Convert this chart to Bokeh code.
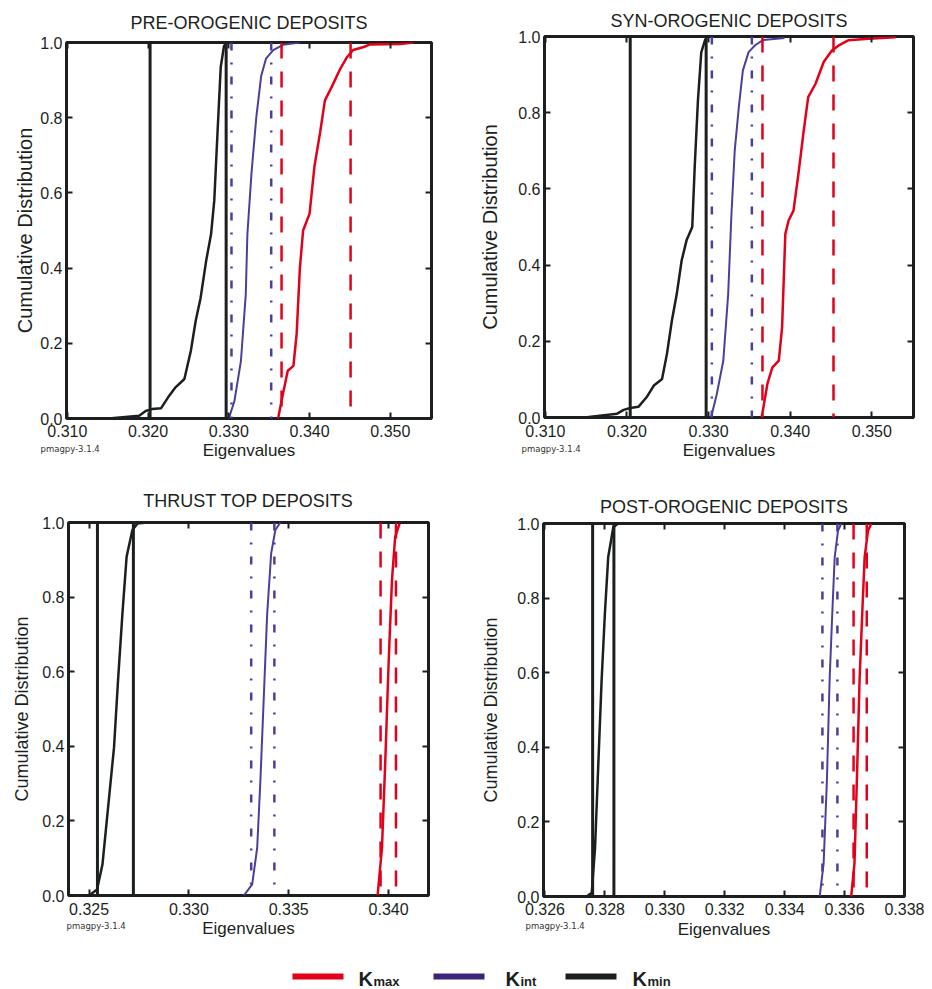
from bokeh.plotting import figure
from bokeh.models import Range1d, FixedTicker, PrintfTickFormatter, LinearAxis, Span, Label, Title
from bokeh.layouts import column, row
from bokeh.embed import file_html
from bokeh.resources import INLINE

RED = "#e2001a"
BLUE = "#4b3f9c"
BLACK = "#1b1f20"
FONT = "Liberation Sans"

titles = ["PRE-OROGENIC DEPOSITS", "SYN-OROGENIC DEPOSITS", "THRUST TOP DEPOSITS", "POST-OROGENIC DEPOSITS"]
y_ticks = [0.0, 0.2, 0.4, 0.6, 0.8, 1.0]

# ---- Panel 1: pre-orogenic ----
pre_xticks = [0.310, 0.320, 0.330, 0.340, 0.350]
pre_xlim = [0.3099, 0.3551]
pre_kmin_x = [0.3151, 0.3189, 0.3197, 0.3205, 0.3216, 0.3226, 0.3234, 0.3245, 0.3253, 0.3259, 0.3265, 0.3272, 0.3278, 0.3282, 0.3286, 0.3290, 0.3294, 0.3297]
pre_kmin_y = [0.000, 0.007, 0.020, 0.025, 0.027, 0.060, 0.083, 0.105, 0.180, 0.260, 0.320, 0.420, 0.490, 0.580, 0.760, 0.935, 0.990, 1.000]
pre_kint_x = [0.3300, 0.3307, 0.3315, 0.3321, 0.3323, 0.3328, 0.3334, 0.3340, 0.3346, 0.3355, 0.3367, 0.3388]
pre_kint_y = [0.000, 0.047, 0.153, 0.330, 0.490, 0.650, 0.800, 0.910, 0.957, 0.980, 0.994, 1.000]
pre_kmax_x = [0.3361, 0.3367, 0.3373, 0.3380, 0.3384, 0.3388, 0.3392, 0.3400, 0.3406, 0.3413, 0.3419, 0.3427, 0.3438, 0.3446, 0.3454, 0.3467, 0.3475, 0.3512, 0.3529]
pre_kmax_y = [0.000, 0.065, 0.127, 0.140, 0.225, 0.400, 0.500, 0.545, 0.670, 0.760, 0.846, 0.880, 0.930, 0.960, 0.980, 0.988, 0.995, 0.996, 1.000]
pre_kmin_bounds = [0.32025, 0.32967]
pre_kint_bounds = [0.33033, 0.33525]
pre_kmax_bounds = [0.33653, 0.34508]

# ---- Panel 2: syn-orogenic ----
syn_xticks = [0.310, 0.320, 0.330, 0.340, 0.350]
syn_xlim = [0.3099, 0.3551]
syn_kmin_x = [0.3148, 0.3188, 0.3196, 0.3204, 0.3214, 0.3224, 0.3233, 0.3243, 0.3249, 0.3255, 0.3261, 0.3267, 0.3273, 0.3280, 0.3283, 0.3287, 0.3291, 0.3296]
syn_kmin_y = [0.000, 0.010, 0.020, 0.025, 0.028, 0.053, 0.084, 0.101, 0.167, 0.254, 0.324, 0.412, 0.465, 0.500, 0.658, 0.834, 0.958, 0.993]
syn_kint_x = [0.3303, 0.3310, 0.3318, 0.3324, 0.3328, 0.3332, 0.3337, 0.3342, 0.3349, 0.3357, 0.3367, 0.3393]
syn_kint_y = [0.000, 0.061, 0.149, 0.324, 0.534, 0.700, 0.814, 0.911, 0.959, 0.977, 0.991, 0.996]
syn_kmax_x = [0.3365, 0.3372, 0.3378, 0.3386, 0.3390, 0.3394, 0.3398, 0.3404, 0.3410, 0.3416, 0.3422, 0.3431, 0.3441, 0.3451, 0.3459, 0.3471, 0.3496, 0.3529]
syn_kmax_y = [0.000, 0.088, 0.131, 0.149, 0.236, 0.482, 0.517, 0.543, 0.639, 0.744, 0.841, 0.876, 0.933, 0.963, 0.976, 0.990, 0.994, 0.998]
syn_kmin_bounds = [0.3204, 0.3297]
syn_kint_bounds = [0.3304, 0.3353]
syn_kmax_bounds = [0.3366, 0.3453]

# ---- Panel 3: thrust top ----
thr_xticks = [0.325, 0.330, 0.335, 0.340]
thr_xlim = [0.32397, 0.3420]
thr_kmin_x = [0.3250, 0.3254, 0.32567, 0.32592, 0.32625, 0.32645, 0.32667, 0.32688, 0.32717, 0.32742, 0.3279]
thr_kmin_y = [0.000, 0.016, 0.083, 0.218, 0.397, 0.576, 0.755, 0.908, 0.980, 0.997, 1.000]
thr_kint_x = [0.33275, 0.33317, 0.33342, 0.33358, 0.33375, 0.33392, 0.33412, 0.33433, 0.33458]
thr_kint_y = [0.000, 0.030, 0.128, 0.307, 0.531, 0.755, 0.917, 0.980, 1.000]
thr_kmax_x = [0.33945, 0.33967, 0.33983, 0.34000, 0.34017, 0.34033, 0.34055]
thr_kmax_y = [0.000, 0.128, 0.352, 0.620, 0.845, 0.961, 0.997]
thr_kmin_bounds = [0.32542, 0.32722]
thr_kint_bounds = [0.33312, 0.33428]
thr_kmax_bounds = [0.33960, 0.34037]

# ---- Panel 4: post-orogenic ----
post_xticks = [0.326, 0.328, 0.330, 0.332, 0.334, 0.336, 0.338]
post_xlim = [0.32595, 0.3380]
post_kmin_x = [0.32739, 0.32756, 0.32767, 0.32778, 0.32789, 0.32800, 0.32811, 0.32828, 0.32844]
post_kmin_y = [0.000, 0.010, 0.130, 0.356, 0.580, 0.760, 0.910, 0.990, 1.000]
post_kint_x = [0.33517, 0.33530, 0.33541, 0.33550, 0.33559, 0.33567, 0.33578, 0.33589]
post_kint_y = [0.000, 0.088, 0.311, 0.580, 0.760, 0.910, 0.980, 1.000]
post_kmax_x = [0.33622, 0.33633, 0.33641, 0.33650, 0.33659, 0.33667, 0.33678, 0.33689]
post_kmax_y = [0.000, 0.088, 0.311, 0.580, 0.760, 0.910, 0.980, 1.000]
post_kmin_bounds = [0.32759, 0.32830]
post_kint_bounds = [0.33526, 0.33576]
post_kmax_bounds = [0.33630, 0.33674]

legend_labels = ["max", "int", "min"]
legend_colors = [RED, "#3c2478", BLACK]


def make_panel(title, xlim, xticks, kmin, kint, kmax, bmin, bint, bmax,
               w, h, bl, br, bt, bb, ylab_size, ylab_standoff, title_standoff,
               xtick_standoff, xlab_standoff, tag_offset, tag_standoff):
    p = figure(width=w, height=h, x_range=Range1d(*xlim), y_range=Range1d(0, 1),
               output_backend="svg", toolbar_location=None,
               min_border_left=bl, min_border_right=br, min_border_top=bt, min_border_bottom=bb,
               title=title)
    p.title.text_font = FONT
    p.title.text_font_size = "18px"
    p.title.text_font_style = "normal"
    p.title.text_color = BLACK
    p.title.align = "center"
    p.title.standoff = title_standoff
    p.xgrid.visible = False
    p.ygrid.visible = False
    p.outline_line_color = BLACK
    p.outline_line_width = 3
    p.outline_line_alpha = 1.0
    p.background_fill_color = "white"
    p.border_fill_color = "white"

    bottom = p.below[0]
    left = p.left[0]
    top = LinearAxis()
    right = LinearAxis()
    p.add_layout(top, "above")
    p.add_layout(right, "right")
    for ax in [bottom, top]:
        ax.ticker = FixedTicker(ticks=xticks)
        ax.formatter = PrintfTickFormatter(format="%.3f")
    for ax in [left, right]:
        ax.ticker = FixedTicker(ticks=y_ticks)
        ax.formatter = PrintfTickFormatter(format="%.1f")
    for ax in [bottom, left, top, right]:
        ax.axis_line_color = None
        ax.major_tick_in = 6
        ax.major_tick_out = 0
        ax.major_tick_line_color = BLACK
        ax.major_tick_line_width = 2
        ax.minor_tick_line_color = None
        ax.major_label_text_font = FONT
        ax.major_label_text_font_size = "16px"
        ax.major_label_text_color = BLACK
    for ax in [top, right]:
        ax.major_label_text_font_size = "1px"
        ax.major_label_text_color = None
        ax.major_label_standoff = 0
    bottom.axis_label = "Eigenvalues"
    bottom.axis_label_text_font = FONT
    bottom.axis_label_text_font_size = "17px"
    bottom.axis_label_text_font_style = "normal"
    bottom.axis_label_text_color = BLACK
    bottom.major_label_standoff = xtick_standoff
    bottom.axis_label_standoff = xlab_standoff
    left.axis_label = "Cumulative Distribution"
    left.axis_label_text_font = FONT
    left.axis_label_text_font_size = ylab_size
    left.axis_label_text_font_style = "normal"
    left.axis_label_text_color = BLACK
    left.major_label_standoff = 4
    left.axis_label_standoff = ylab_standoff

    for v in bmin:
        p.add_layout(Span(location=v, dimension="height", line_color=BLACK, line_width=3))
    for v in bint:
        p.add_layout(Span(location=v, dimension="height", line_color=BLUE, line_width=2.5,
                          line_dash="8 12 2 12"))
    for v in bmax:
        p.add_layout(Span(location=v, dimension="height", line_color=RED, line_width=2.5,
                          line_dash="16 13"))
    p.line(kmin[0], kmin[1], line_color=BLACK, line_width=2.5)
    p.line(kint[0], kint[1], line_color=BLUE, line_width=2)
    p.line(kmax[0], kmax[1], line_color=RED, line_width=2.5)

    # small version tag under the frame, next to the x axis label
    tag = Title(text="pmagpy-3.1.4", align="left", vertical_align="top", offset=tag_offset,
                standoff=tag_standoff, text_font="DejaVu Sans", text_font_size="8.5px",
                text_font_style="normal", text_color="#333333")
    p.add_layout(tag, "below")
    return p


p1 = make_panel(titles[0], pre_xlim, pre_xticks, (pre_kmin_x, pre_kmin_y), (pre_kint_x, pre_kint_y),
                (pre_kmax_x, pre_kmax_y), pre_kmin_bounds, pre_kint_bounds, pre_kmax_bounds,
                466, 474, 66, 35, 42, 56, "20px", 1, 19, 6, 1, -26, -38)
p2 = make_panel(titles[1], syn_xlim, syn_xticks, (syn_kmin_x, syn_kmin_y), (syn_kint_x, syn_kint_y),
                (syn_kmax_x, syn_kmax_y), syn_kmin_bounds, syn_kint_bounds, syn_kmax_bounds,
                466, 474, 78, 19, 36, 57, "20px", 14, 11, 7, 1, -23, -38)
p3 = make_panel(titles[2], thr_xlim, thr_xticks, (thr_kmin_x, thr_kmin_y), (thr_kint_x, thr_kint_y),
                (thr_kmax_x, thr_kmax_y), thr_kmin_bounds, thr_kint_bounds, thr_kmax_bounds,
                466, 476, 68, 38, 48, 55, "18px", 7, 23, 7, 1, -2, -40)
p4 = make_panel(titles[3], post_xlim, post_xticks, (post_kmin_x, post_kmin_y), (post_kint_x, post_kint_y),
                (post_kmax_x, post_kmax_y), post_kmin_bounds, post_kint_bounds, post_kmax_bounds,
                466, 476, 77, 28, 49, 54, "18px", 13, 14, 6, 2, -18, -42)

# ---- legend strip ----
leg = figure(width=932, height=39, x_range=Range1d(0, 932), y_range=Range1d(0, 39),
             output_backend="svg", toolbar_location=None,
             min_border_left=0, min_border_right=0, min_border_top=0, min_border_bottom=0)
leg.title.visible = False
leg.axis.visible = False
leg.xgrid.visible = False
leg.ygrid.visible = False
leg.outline_line_color = None
leg_key_x0 = [292, 433, 565]
leg_key_x1 = [343, 484, 616]
leg_key_y = [13, 13, 13]
leg_text_x = [358, 505, 632]
leg.segment(x0=leg_key_x0, y0=leg_key_y, x1=leg_key_x1, y1=leg_key_y,
            line_color=legend_colors, line_width=6)
for tx, lab in zip(leg_text_x, legend_labels):
    leg.add_layout(Label(x=tx, y=11, text="K", text_font=FONT, text_font_size="20px",
                         text_font_style="bold", text_color=BLACK, text_baseline="alphabetic"))
    leg.add_layout(Label(x=tx + 15, y=8, text=lab, text_font=FONT, text_font_size="13px",
                         text_font_style="bold", text_color=BLACK, text_baseline="alphabetic"))

layout = column(row(column(p1), column(p2)), row(column(p3), column(p4)), leg)
open("out.html", "w").write(file_html(layout, INLINE))
